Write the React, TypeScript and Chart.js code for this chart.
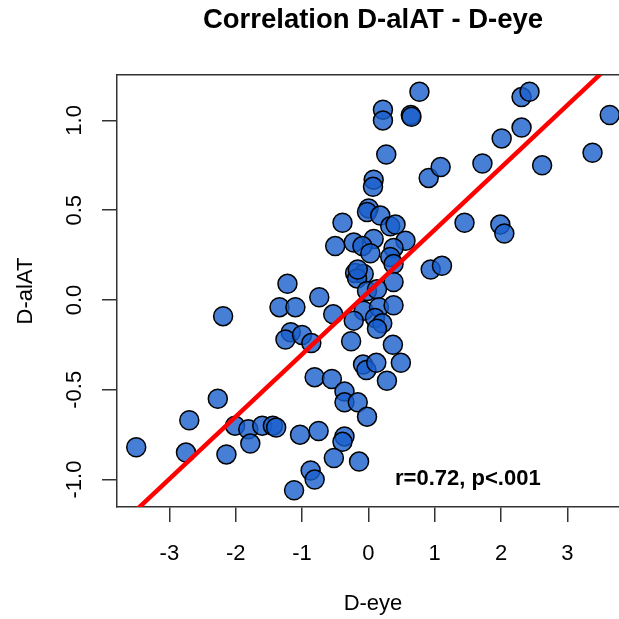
import React, { useEffect, useRef } from "react";
import { Chart, registerables } from "chart.js";

Chart.register(...registerables);

const titleText = "Correlation D-alAT - D-eye";
const xLabel = "D-eye";
const yLabel = "D-alAT";
const statText = "r=0.72, p<.001";

const xTicks = [-3, -2, -1, 0, 1, 2, 3];
const yTicks = [-1, -0.5, 0, 0.5, 1];
const xRange = [-3.79, 3.93];
const yRange = [-1.153, 1.253];

const dEye = [
  0.77, 0.22, 0.22, 0.64, 0.65, 0.27, 0.08, 0.07, 0.91, 1.09, 1.72, 2.01, 2.31, 2.31, 2.43, 3.64, 3.38, 2.62, 1.45, 1.99, 2.05, 0.94, 1.11,
  0.005, -0.02, 0.18, -0.39, 0.33, 0.41, 0.56, 0.08, -0.5, -0.22, -0.09, 0.03, 0.38, 0.33,
  0.38, -0.2, -0.07, -0.17, 0.38, -0.02, 0.13, -0.07, 0.16, 0.38, 0.1, 0.21, 0.13, -0.16,
  -1.22, -1.34, -1.1, -0.74, -2.19, -1.17, -1.25, -1.0, -0.86, -0.53, -0.22, -0.26, -0.08, -0.03, -0.81, -0.55, -0.36, -0.36, -0.16, -0.02,
  -2.27, -2.7, -3.5, -2.75, -2.14, -2.01, -1.81, -1.78, -1.6, -1.44, -1.39, -1.03, -0.75, -0.36, -0.39, -0.52, -0.14, -0.87, -0.81, -1.12,
  0.37, 0.49, 0.28, 0.12,
];
const dAlat = [
  1.16, 1.06, 1.0, 1.03, 1.02, 0.81, 0.67, 0.63, 0.68, 0.74, 0.76, 0.9, 0.96, 1.13, 1.16, 1.03, 0.82, 0.75, 0.43, 0.42, 0.37, 0.17, 0.19,
  0.51, 0.49, 0.47, 0.43, 0.41, 0.42, 0.33, 0.34, 0.3, 0.32, 0.3, 0.26, 0.29, 0.24,
  0.2, 0.15, 0.145, 0.12, 0.1, 0.05, 0.06, -0.06, -0.04, -0.03, -0.1, -0.13, -0.16, 0.17,
  0.09, -0.04, -0.04, 0.015, -0.09, -0.18, -0.22, -0.195, -0.24, -0.08, -0.115, -0.23, -0.36, -0.39, -0.43, -0.44, -0.51, -0.57, -0.57, -0.65,
  -0.55, -0.67, -0.82, -0.85, -0.86, -0.7, -0.72, -0.8, -0.7, -0.7, -0.71, -0.75, -0.73, -0.76, -0.79, -0.88, -0.9, -0.95, -1.0, -1.06,
  -0.25, -0.35, -0.45, -0.35,
];

// regression line end points
const fitX = [-3.6, 3.9];
const fitY = [-1.205, 1.397];

const statPos = { x: 1.5, y: -0.995 };

const FONT = "'Liberation Sans', Arial, Helvetica, sans-serif";
const CANVAS_W = 629;
const CANVAS_H = 619;

const zeroPad = () => ({ left: 0, right: 0, top: 0, bottom: 0 });

const statPlugin = {
  id: "statText",
  afterDatasetsDraw(chart: any) {
    const { ctx, scales } = chart;
    const px = scales.x.getPixelForValue(statPos.x);
    const py = scales.y.getPixelForValue(statPos.y);
    ctx.save();
    ctx.font = `bold 22px ${FONT}`;
    ctx.fillStyle = "#000";
    ctx.textAlign = "center";
    ctx.textBaseline = "middle";
    ctx.fillText(statText, px, py);
    ctx.restore();
  },
};

export default function App() {
  const ref = useRef<HTMLCanvasElement | null>(null);

  useEffect(() => {
    if (!ref.current) return;
    const points = dEye.map((x, i) => ({ x, y: dAlat[i] }));
    const fit = fitX.map((x, i) => ({ x, y: fitY[i] }));
    const chart = new Chart(ref.current, {
      type: "scatter",
      data: {
        datasets: [
          {
            data: fit,
            showLine: true,
            borderColor: "#ff0000",
            borderWidth: 4.5,
            pointRadius: 0,
            fill: false,
          } as any,
          {
            data: points,
            backgroundColor: "rgba(25,95,205,0.8)",
            borderColor: "#000000",
            borderWidth: 1.5,
            pointRadius: 9.5,
            pointHoverRadius: 9.5,
          },
        ],
      },
      options: {
        responsive: false,
        maintainAspectRatio: false,
        animation: false,
        events: [],
        layout: { padding: 0, autoPadding: false },
        plugins: {
          legend: { display: false },
          tooltip: { enabled: false },
          title: {
            display: true,
            fullSize: false,
            text: titleText,
            color: "#000",
            font: { family: FONT, size: 27.5, weight: "bold", lineHeight: 1.2 },
            padding: { top: 4, bottom: 38 },
          },
        },
        scales: {
          x: {
            type: "linear",
            position: "bottom",
            min: xRange[0],
            max: xRange[1],
            afterBuildTicks: (s: any) => {
              s.ticks = xTicks.map((v) => ({ value: v }));
            },
            afterFit: (s: any) => {
              s.height = 112;
              s.paddingLeft = 0;
              s.paddingRight = 0;
              s.getPadding = zeroPad;
            },
            grid: { drawOnChartArea: false, drawTicks: true, tickLength: 15, color: "#333", lineWidth: 1.5 },
            border: { display: true, color: "#333", width: 1.5 },
            ticks: {
              color: "#000",
              font: { family: FONT, size: 22 },
              padding: 19,
              maxRotation: 0,
              autoSkip: false,
              callback: (v: any) => String(v),
            },
            title: {
              display: true,
              text: xLabel,
              color: "#000",
              font: { family: FONT, size: 22, lineHeight: 1.2 },
              padding: { top: 0, bottom: 2 },
            },
          },
          x2: {
            type: "linear",
            position: "top",
            min: xRange[0],
            max: xRange[1],
            afterFit: (s: any) => {
              s.height = 0;
              s.paddingLeft = 0;
              s.paddingRight = 0;
              s.getPadding = zeroPad;
            },
            grid: { drawOnChartArea: false, drawTicks: false },
            border: { display: true, color: "#333", width: 1.5 },
            ticks: { display: false },
          },
          y: {
            type: "linear",
            position: "left",
            min: yRange[0],
            max: yRange[1],
            afterBuildTicks: (s: any) => {
              s.ticks = yTicks.map((v) => ({ value: v }));
            },
            afterFit: (s: any) => {
              s.width = 117;
              s.paddingTop = 0;
              s.paddingBottom = 0;
              s.getPadding = zeroPad;
            },
            grid: { drawOnChartArea: false, drawTicks: true, tickLength: 15, color: "#333", lineWidth: 1.5 },
            border: { display: true, color: "#333", width: 1.5 },
            ticks: {
              color: "#000",
              font: { family: FONT, size: 22 },
              padding: 8,
              minRotation: 90,
              maxRotation: 90,
              crossAlign: "center",
              autoSkip: false,
              callback: (v: any) => Number(v).toFixed(1),
            },
            title: {
              display: true,
              text: yLabel,
              color: "#000",
              font: { family: FONT, size: 22, lineHeight: 1.2 },
              padding: { top: 13, bottom: 0 },
            },
          },
        },
      } as any,
      plugins: [statPlugin],
    });
    return () => chart.destroy();
  }, []);

  return (
    <div style={{ position: "fixed", left: 0, top: 0, width: 619, height: 619, overflow: "hidden", background: "#fff" }}>
      <div style={{ position: "absolute", left: 0, top: 0, width: CANVAS_W, height: CANVAS_H }}>
        <canvas
          ref={ref}
          width={CANVAS_W}
          height={CANVAS_H}
          style={{ display: "block", width: CANVAS_W, height: CANVAS_H }}
        />
      </div>
    </div>
  );
}
